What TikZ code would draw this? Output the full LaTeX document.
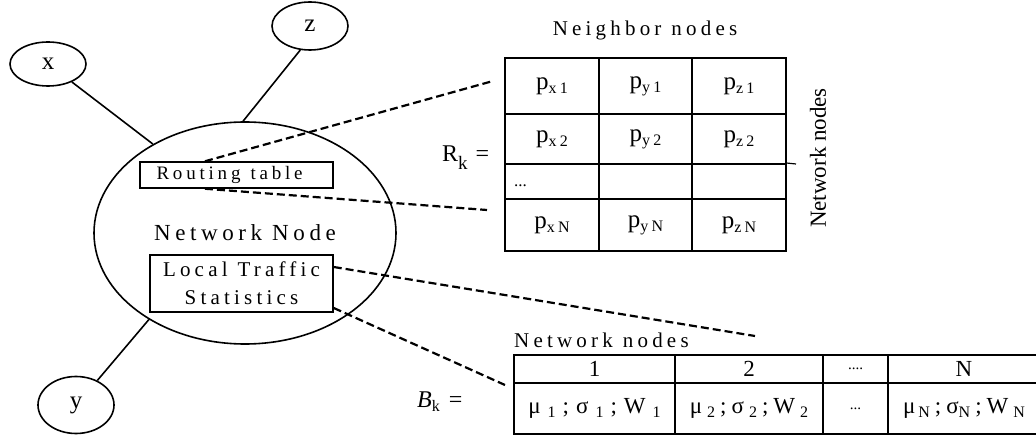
\documentclass[tikz,border=0pt]{standalone}
\usepackage{fontspec}
\setmainfont{Liberation Serif}
\newfontfamily\spc{Liberation Serif}[LetterSpace=20]
\usetikzlibrary{shapes.geometric}

% font size helper, word gap and letter-spaced subscripts
\newcommand{\fs}[1]{\fontsize{#1}{#1}\selectfont}
\newcommand{\wg}{\hspace{10pt}}
\newcommand{\sbs}[1]{\raisebox{-4pt}{\fs{16}\spc #1}}
\newcommand{\msub}[1]{\raisebox{-4pt}{\fs{16}#1}}
\newcommand{\gap}{\hspace{7pt}}

\begin{document}
\begin{tikzpicture}[x=1pt,y=-1pt,
  peer/.style={ellipse, draw, line width=1.6pt, inner sep=0pt, font=\fs{25}},
  box/.style={rectangle, draw, line width=1.5pt, inner sep=0pt},
  cell/.style={rectangle, draw, line width=1.9pt, inner sep=0pt, font=\fs{25}\spc},
  bcell/.style={rectangle, draw, line width=1.9pt, inner sep=0pt, font=\fs{23}},
  link/.style={line width=1.6pt},
  dashlink/.style={line width=2.2pt, dash pattern=on 8pt off 4pt},
  lbl/.style={inner sep=0pt}]
\useasboundingbox (0,0) rectangle (1036,438);
\fill[white] (0,0) rectangle (1036,438);

% the node and its neighbours
\node[peer, minimum width=76pt, minimum height=44pt] (x) at (48,64) {x};
\node[peer, minimum width=76pt, minimum height=48pt] (z) at (310,26) {z};
\node[peer, minimum width=76pt, minimum height=57pt] (y) at (76,405) {y};
\node[peer, minimum width=302pt, minimum height=222pt, font=\fs{23}\spc] (nn) at (245,233) {Network\wg Node};

\draw[link] (x.-37) -- (nn.136);
\draw[link] (z.-112) -- (nn.91);
\draw[link] (nn.222) -- (y.49);

% internal structures
\node[box, minimum width=193pt, minimum height=26pt, text width=160pt, align=left,
      font=\fs{19}\spc] (rt) at (236.5,175) {\mbox{Routing\wg table}};
\node[box, minimum width=183pt, minimum height=57pt, align=center,
      font=\fontsize{21}{28}\selectfont\spc] (lt) at (241.5,283.5) {Local\wg Traffic\\Statistics};

% routing matrix R_k
\node[cell, minimum width=94pt, minimum height=56pt] (r11) at (552,86)   {p\sbs{x1}};
\node[cell, minimum width=93pt, minimum height=56pt] (r12) at (645.5,86) {p\sbs{y1}};
\node[cell, minimum width=94pt, minimum height=56pt] (r13) at (739,86)   {p\sbs{z1}};
\node[cell, minimum width=94pt, minimum height=50pt] (r21) at (552,139)   {p\sbs{x2}};
\node[cell, minimum width=93pt, minimum height=50pt] (r22) at (645.5,139) {p\sbs{y2}};
\node[cell, minimum width=94pt, minimum height=50pt] (r23) at (739,139)   {p\sbs{z2}};
\node[cell, minimum width=94pt, minimum height=35pt] (r31) at (552,181.5)   {};
\node[cell, minimum width=93pt, minimum height=35pt] (r32) at (645.5,181.5) {};
\node[cell, minimum width=94pt, minimum height=35pt] (r33) at (739,181.5)   {};
\node[cell, minimum width=94pt, minimum height=52pt] (r41) at (552,225)   {p\sbs{xN}};
\node[cell, minimum width=93pt, minimum height=52pt] (r42) at (645.5,225) {p\sbs{yN}};
\node[cell, minimum width=94pt, minimum height=52pt] (r43) at (739,225)   {p\sbs{zN}};
\node[lbl, anchor=west, font=\fs{17}] (dots) at (514,186) {...};

\coordinate (tick) at (796,164);
\draw[line width=1.2pt] (r33.north east) -- (tick);

\node[lbl, font=\fs{21}\spc] (nbr) at (645,30) {Neighbor\wg nodes};
\node[lbl, rotate=90, font=\fs{23}] (vnodes) at (818,158) {Network nodes};
\node[lbl, anchor=base west, font=\fs{24}] (rk) at (442,162) {R\raisebox{-8pt}{\fs{19}k}\hspace{8pt}=};

% traffic statistics B_k
\node[bcell, minimum width=161pt, minimum height=28pt] (b11) at (594.5,369) {1};
\node[bcell, minimum width=148pt, minimum height=28pt] (b12) at (749,369)   {2};
\node[bcell, minimum width=65pt,  minimum height=28pt] (b13) at (855.5,369) {\fs{15}....};
\node[bcell, minimum width=152pt, minimum height=28pt] (b14) at (964,369)   {N};
\node[bcell, minimum width=161pt, minimum height=51pt] (b21) at (594.5,408.5)
  {μ\gap\msub{1}\gap;\gap σ\gap\msub{1}\gap;\gap W\gap\msub{1}};
\node[bcell, minimum width=148pt, minimum height=51pt] (b22) at (749,408.5)
  {μ\hspace{5pt}\msub{2}\hspace{5pt};\hspace{5pt}σ\hspace{5pt}\msub{2}\hspace{5pt};\hspace{5pt}W\hspace{5pt}\msub{2}};
\node[bcell, minimum width=65pt,  minimum height=51pt] (b23) at (855.5,408.5) {\fs{15}...};
\node[bcell, minimum width=152pt, minimum height=51pt] (b24) at (964,408.5)
  {μ\hspace{3pt}\msub{N}\hspace{5pt};\hspace{5pt}σ\msub{N}\hspace{5pt};\hspace{5pt}W\hspace{5pt}\msub{N}};

\node[lbl, anchor=base west, font=\fs{21}\spc] (bnodes) at (514,348) {Network\wg nodes};
\node[lbl, anchor=base west, font=\fs{24}] (bk) at (417,407) {{\itshape B}\raisebox{-4pt}{\fs{16}k}\hspace{9pt}=};

% dashed call-outs
\coordinate (rtA) at (493,81);
\coordinate (rtB) at (487,210);
\coordinate (ltA) at (755,336);
\coordinate (ltB) at (505,385);
\draw[dashlink] ([xshift=-31.5pt]rt.north) -- (rtA);
\draw[dashlink] ([xshift=-31.5pt]rt.south) -- (rtB);
\draw[dashlink] ([yshift=16.5pt]lt.east) -- (ltA);
\draw[dashlink] ([yshift=-24.5pt]lt.east) -- (ltB);
\end{tikzpicture}
\end{document}
